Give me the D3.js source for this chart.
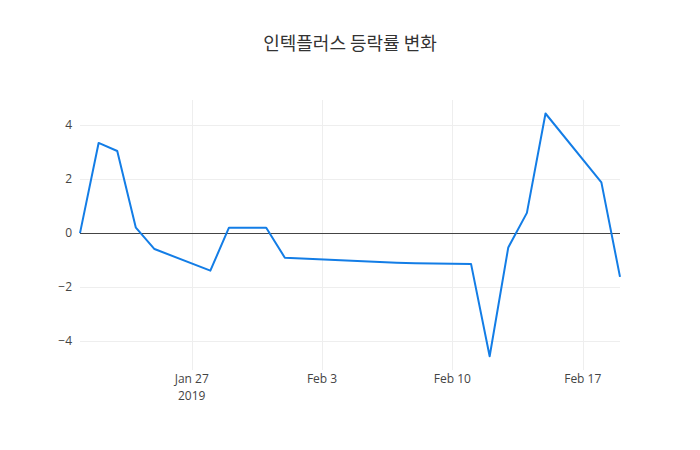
<!DOCTYPE html>
<html>
<head>
<meta charset="utf-8">
<script src="https://cdn.jsdelivr.net/npm/d3@7"></script>
<style>
  body { margin: 0; background: white; }
  text { font-family: "Open Sans", "Noto Sans CJK KR", sans-serif; }
</style>
</head>
<body>
<svg width="700" height="450"></svg>
<script>
// trading days and daily change (%)
const dates = ['2019-01-21','2019-01-22','2019-01-23','2019-01-24','2019-01-25',
               '2019-01-28','2019-01-29','2019-01-30','2019-01-31','2019-02-01',
               '2019-02-07','2019-02-08','2019-02-11','2019-02-12','2019-02-13',
               '2019-02-14','2019-02-15','2019-02-18','2019-02-19'];
const changes = [0, 3.34, 3.04, 0.2, -0.59,
                 -1.39, 0.2, 0.2, 0.2, -0.91,
                 -1.1, -1.12, -1.14, -4.56, -0.53,
                 0.75, 4.43, 1.88, -1.62];
const yTicks = [-4, -2, 0, 2, 4];
const xTicks = ['2019-01-27','2019-02-03','2019-02-10','2019-02-17'];
const xTickLabels = ['Jan 27', 'Feb 3', 'Feb 10', 'Feb 17'];
const title = '인텍플러스 등락률 변화';

const parse = d3.utcParse('%Y-%m-%d');
const data = dates.map((d, i) => ({date: parse(d), value: changes[i]}));

const svg = d3.select('svg');
const width = +svg.attr('width');
const height = +svg.attr('height');
const margin = {top: 100, right: 80, bottom: 80, left: 80};

const x = d3.scaleUtc()
  .domain([parse('2019-01-21'), parse('2019-02-19')])
  .range([margin.left, width - margin.right]);
const y = d3.scaleLinear()
  .domain([-5.07, 4.93])
  .range([height - margin.bottom, margin.top]);

const snap = v => Math.round(v) + 0.5;

// grid
svg.append('g')
  .selectAll('line')
  .data(xTicks.map(parse))
  .join('line')
    .attr('x1', d => snap(x(d))).attr('x2', d => snap(x(d)))
    .attr('y1', margin.top).attr('y2', height - margin.bottom)
    .attr('stroke', '#eee').attr('stroke-width', 1);

svg.append('g')
  .selectAll('line')
  .data(yTicks.filter(d => d !== 0))
  .join('line')
    .attr('x1', margin.left).attr('x2', width - margin.right)
    .attr('y1', d => snap(y(d))).attr('y2', d => snap(y(d)))
    .attr('stroke', '#eee').attr('stroke-width', 1);

// zero line
svg.append('line')
  .attr('x1', margin.left).attr('x2', width - margin.right)
  .attr('y1', snap(y(0))).attr('y2', snap(y(0)))
  .attr('stroke', '#444').attr('stroke-width', 1);

// y tick labels
svg.append('g')
  .selectAll('text')
  .data(yTicks)
  .join('text')
    .attr('x', margin.left - 8)
    .attr('y', d => y(d))
    .attr('dy', '0.36em')
    .attr('text-anchor', 'end')
    .attr('font-size', 12)
    .attr('fill', '#444')
    .text(d => d < 0 ? '\u2212' + Math.abs(d) : d);

// x tick labels
svg.append('g')
  .selectAll('text')
  .data(xTicks)
  .join('text')
    .attr('x', d => x(parse(d)))
    .attr('y', height - margin.bottom + 13)
    .attr('text-anchor', 'middle')
    .attr('font-size', 12)
    .attr('fill', '#444')
    .text((d, i) => xTickLabels[i]);

svg.append('text')
  .attr('x', x(parse(xTicks[0])))
  .attr('y', height - margin.bottom + 30)
  .attr('text-anchor', 'middle')
  .attr('font-size', 12)
  .attr('fill', '#444')
  .text('2019');

// line
const line = d3.line()
  .x(d => x(d.date))
  .y(d => y(d.value));

svg.append('path')
  .datum(data)
  .attr('d', line)
  .attr('fill', 'none')
  .attr('stroke', '#137de6')
  .attr('stroke-width', 2)
  .attr('stroke-linejoin', 'round');

// title
svg.append('text')
  .attr('x', width / 2)
  .attr('y', 50)
  .attr('text-anchor', 'middle')
  .attr('font-size', 18)
  .attr('fill', '#333')
  .style('font-family', '"Noto Sans CJK KR", sans-serif')
  .text(title);
</script>
</body>
</html>
